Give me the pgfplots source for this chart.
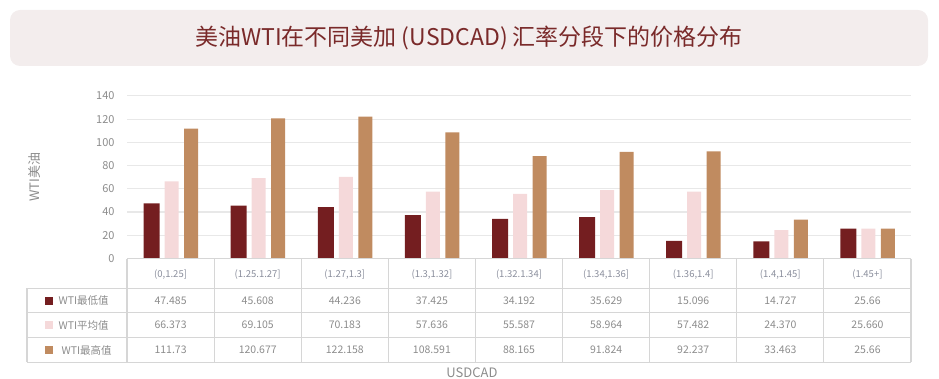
\documentclass[border=0pt]{standalone}
\usepackage{fontspec}
\setmainfont{Noto Sans CJK SC}
\usepackage{pgfplots}
\usepackage{pgfplotstable}
\pgfplotsset{compat=1.18}
\definecolor{cLow}{HTML}{741E20}
\definecolor{cAvg}{HTML}{F5D9DA}
\definecolor{cHigh}{HTML}{C08B60}
\definecolor{txt}{HTML}{8C8C8C}
\definecolor{hdr}{HTML}{8A8E9C}
\definecolor{titlec}{HTML}{7A2A2A}
\definecolor{boxc}{HTML}{F3EDED}
\definecolor{gridc}{HTML}{E8E8E8}
\definecolor{tabc}{HTML}{D6D6D6}
\pgfplotstableread{
x low avg high
0 47.485 66.373 111.73
1 45.608 69.105 120.677
2 44.236 70.183 122.158
3 37.425 57.636 108.591
4 34.192 55.587 88.165
5 35.629 58.964 91.824
6 15.096 57.482 92.237
7 14.727 24.370 33.463
8 25.66 25.660 25.66
}\data
\begin{document}
\begin{tikzpicture}[x=1pt,y=1pt]
\useasboundingbox (0,0) rectangle (939,378);
\fill[boxc, rounded corners=10pt] (10,312) rectangle (928,368);
\node[titlec, font=\fontsize{23}{27}\selectfont] at (469,340) {美油WTI在不同美加 (USDCAD) 汇率分段下的价格分布};
\begin{axis}[at={(127pt,119.5pt)}, anchor=south west, scale only axis,
  width=784pt, height=162.6pt, ymin=0, ymax=140, xmin=-0.5, xmax=8.5,
  ytick={0,20,40,60,80,100,120,140}, xtick=\empty, ymajorgrids,
  grid style={gridc, line width=1.2pt},
  axis line style={draw=none}, major tick length=0pt,
  tick label style={txt, font=\fontsize{11}{13}\selectfont},
  yticklabel style={xshift=-9pt},
  /pgf/number format/assume math mode=true, clip=false]
\addplot[ybar, bar width=16pt, bar shift=-19pt, fill=cLow, draw=none] table[x=x,y=low] {\data};
\addplot[ybar, bar width=14pt, bar shift=1pt, fill=cAvg, draw=none] table[x=x,y=avg] {\data};
\addplot[ybar, bar width=14pt, bar shift=20.5pt, fill=cHigh, draw=none] table[x=x,y=high] {\data};
\end{axis}
\node[txt, font=\fontsize{13}{15}\selectfont, rotate=90] at (35,201) {WTI美油};
% table grid
\draw[tabc, line width=1.1pt] (127,119.5) -- (911,119.5);
\draw[tabc, line width=1.1pt] (27,89.7) -- (911,89.7);
\draw[tabc, line width=1.1pt] (27,65.3) -- (911,65.3);
\draw[tabc, line width=1.1pt] (27,40.3) -- (911,40.3);
\draw[tabc, line width=1.1pt] (27,15.7) -- (911,15.7);
\draw[tabc, line width=1.1pt] (27,89.7) -- (27,15.7);
\draw[tabc, line width=1.1pt] (127,119.5) -- (127,15.7);
\draw[tabc, line width=1.1pt] (214.1,119.5) -- (214.1,15.7);
\draw[tabc, line width=1.1pt] (301.2,119.5) -- (301.2,15.7);
\draw[tabc, line width=1.1pt] (388.3,119.5) -- (388.3,15.7);
\draw[tabc, line width=1.1pt] (475.4,119.5) -- (475.4,15.7);
\draw[tabc, line width=1.1pt] (562.6,119.5) -- (562.6,15.7);
\draw[tabc, line width=1.1pt] (649.7,119.5) -- (649.7,15.7);
\draw[tabc, line width=1.1pt] (736.8,119.5) -- (736.8,15.7);
\draw[tabc, line width=1.1pt] (823.9,119.5) -- (823.9,15.7);
\draw[tabc, line width=1.1pt] (911,119.5) -- (911,15.7);
% header
\node[hdr, font=\fontsize{9.5}{11}\selectfont] at (170.6,103.7) {(0,1.25]};
\node[hdr, font=\fontsize{9.5}{11}\selectfont] at (257.7,103.7) {(1.25.1.27]};
\node[hdr, font=\fontsize{9.5}{11}\selectfont] at (344.8,103.7) {(1.27,1.3]};
\node[hdr, font=\fontsize{9.5}{11}\selectfont] at (431.9,103.7) {(1.3,1.32]};
\node[hdr, font=\fontsize{9.5}{11}\selectfont] at (519.0,103.7) {(1.32.1.34]};
\node[hdr, font=\fontsize{9.5}{11}\selectfont] at (606.1,103.7) {(1.34,1.36]};
\node[hdr, font=\fontsize{9.5}{11}\selectfont] at (693.2,103.7) {(1.36,1.4]};
\node[hdr, font=\fontsize{9.5}{11}\selectfont] at (780.3,103.7) {(1.4,1.45]};
\node[hdr, font=\fontsize{9.5}{11}\selectfont] at (867.4,103.7) {(1.45+]};
% rows
\foreach \v [count=\i from 0] in {47.485,45.608,44.236,37.425,34.192,35.629,15.096,14.727,25.66}
  \node[txt, font=\fontsize{10.5}{12}\selectfont] at ({170.6+\i*87.11},77.5) {\v};
\foreach \v [count=\i from 0] in {66.373,69.105,70.183,57.636,55.587,58.964,57.482,24.370,25.660}
  \node[txt, font=\fontsize{10.5}{12}\selectfont] at ({170.6+\i*87.11},52.8) {\v};
\foreach \v [count=\i from 0] in {111.73,120.677,122.158,108.591,88.165,91.824,92.237,33.463,25.66}
  \node[txt, font=\fontsize{10.5}{12}\selectfont] at ({170.6+\i*87.11},28) {\v};
% legend
\fill[cLow] (45,73.5) rectangle (53,81.5);
\node[txt, font=\fontsize{10.5}{12}\selectfont, anchor=west] at (55,77.5) {WTI最低值};
\fill[cAvg] (45,48.8) rectangle (53,56.8);
\node[txt, font=\fontsize{10.5}{12}\selectfont, anchor=west] at (55,52.8) {WTI平均值};
\fill[cHigh] (45,24) rectangle (53,32);
\node[txt, font=\fontsize{10.5}{12}\selectfont, anchor=west] at (58,28) {WTI最高值};
\node[txt, font=\fontsize{13}{15}\selectfont, anchor=base] at (472,1) {USDCAD};
\end{tikzpicture}
\end{document}
